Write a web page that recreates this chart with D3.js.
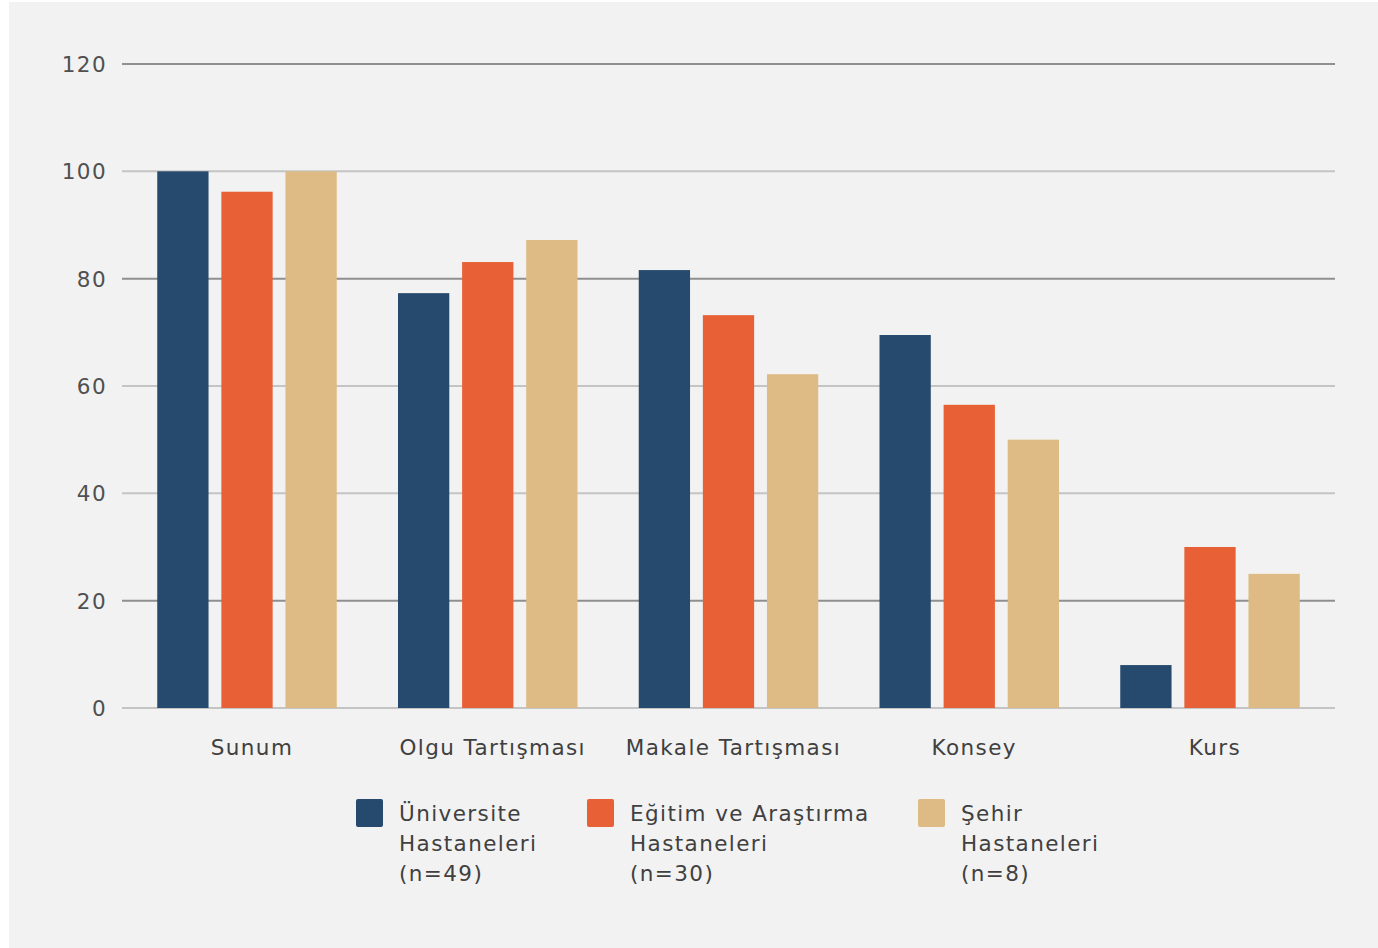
<!DOCTYPE html>
<html>
<head>
<meta charset="utf-8">
<script src="https://cdn.jsdelivr.net/npm/d3@7"></script>
<style>
  body { margin: 0; background: #fff; }
  svg text { font-family: "DejaVu Sans", sans-serif; letter-spacing: 1.4px; }
</style>
</head>
<body>
<svg width="1378" height="948"></svg>
<script>
const categories = ['Sunum', 'Olgu Tartışması', 'Makale Tartışması', 'Konsey', 'Kurs'];
const seriesNames = [
  ['Üniversite', 'Hastaneleri', '(n=49)'],
  ['Eğitim ve Araştırma', 'Hastaneleri', '(n=30)'],
  ['Şehir', 'Hastaneleri', '(n=8)']
];
const universite = [100, 77.3, 81.6, 69.5, 8];
const egitim = [96.2, 83.1, 73.2, 56.5, 30];
const sehir = [100, 87.2, 62.2, 50, 25];
const ticks = [0, 20, 40, 60, 80, 100, 120];
const darkTicks = [20, 80, 120];
const colors = ['#254a6e', '#e86036', '#debb85'];

const seriesValues = [universite, egitim, sehir];

const svg = d3.select('svg');
svg.append('rect')
  .attr('x', 9).attr('y', 2)
  .attr('width', 1369).attr('height', 946)
  .attr('fill', '#f2f2f2');

const x0 = d3.scaleBand().domain(categories).range([122, 1335])
  .paddingInner(0.2544).paddingOuter(0.1464);
const x1 = d3.scaleBand().domain([0, 1, 2]).range([0, x0.bandwidth()])
  .paddingInner(0.2);
const y = d3.scaleLinear().domain([0, 120]).range([708, 64]);

// gridlines
svg.append('g').selectAll('line')
  .data(ticks)
  .enter().append('line')
  .attr('x1', 122).attr('x2', 1335)
  .attr('y1', d => y(d)).attr('y2', d => y(d))
  .attr('stroke', d => darkTicks.includes(d) ? '#8f8f8f' : '#c4c4c4')
  .attr('stroke-width', 2);

// y tick labels
svg.append('g').selectAll('text')
  .data(ticks)
  .enter().append('text')
  .attr('x', 107)
  .attr('y', d => y(d) + 8)
  .attr('text-anchor', 'end')
  .attr('font-size', 21.5)
  .attr('fill', '#505050')
  .text(d => d);

// bars
svg.append('g').selectAll('g')
  .data(categories)
  .enter().append('g')
  .attr('transform', d => `translate(${x0(d)},0)`)
  .selectAll('rect')
  .data((d, i) => seriesValues.map((s, k) => ({ k, v: s[i] })))
  .enter().append('rect')
  .attr('x', d => x1(d.k))
  .attr('width', x1.bandwidth())
  .attr('y', d => y(d.v))
  .attr('height', d => y(0) - y(d.v))
  .attr('fill', d => colors[d.k]);

// category labels, sitting a little right of the group centre like the original
svg.append('g').selectAll('text')
  .data(categories)
  .enter().append('text')
  .attr('x', d => x0(d) + x0.bandwidth() / 2 + 5)
  .attr('y', 755)
  .attr('text-anchor', 'middle')
  .attr('font-size', 21.5)
  .attr('letter-spacing', 1.7)
  .attr('fill', '#404040')
  .text(d => d);

// legend
const legendX = [356, 587, 918];
const legend = svg.append('g').selectAll('g')
  .data(seriesNames)
  .enter().append('g')
  .attr('transform', (d, i) => `translate(${legendX[i]},799)`);

legend.append('rect')
  .attr('width', 27).attr('height', 28).attr('rx', 2)
  .attr('fill', (d, i) => colors[i]);

legend.append('text')
  .attr('font-size', 21.5)
  .attr('fill', '#404040')
  .selectAll('tspan')
  .data(d => d)
  .enter().append('tspan')
  .attr('x', 43)
  .attr('y', (d, i) => 22 + i * 30)
  .text(d => d);
</script>
</body>
</html>
